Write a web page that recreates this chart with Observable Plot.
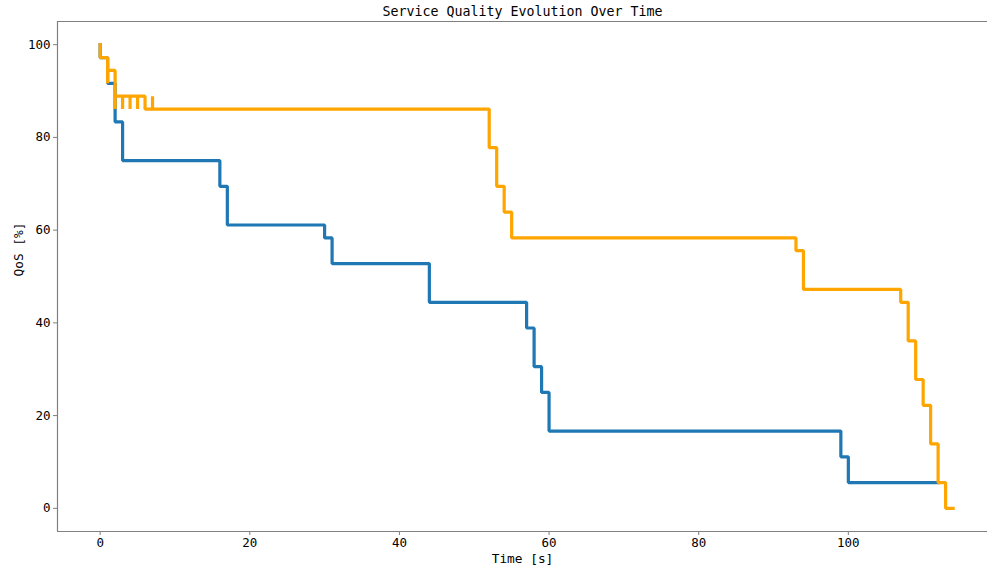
<!DOCTYPE html>
<html>
<head>
<meta charset="utf-8">
<script src="https://cdn.jsdelivr.net/npm/d3@7"></script>
<script src="https://cdn.jsdelivr.net/npm/@observablehq/plot@0.6"></script>
<style>
  html, body { margin: 0; padding: 0; background: #fff; overflow: hidden; }
  svg { display: block; }
</style>
</head>
<body>
<div id="chart"></div>
<script>
// Series A (blue)
const blueTime = [0, 0, 1, 2, 3, 16, 17, 30, 31, 44, 57, 58, 59, 60, 99, 100, 112];
const blueQoS  = [100, 97.22, 91.67, 83.33, 75.0, 69.44, 61.11, 58.33, 52.78, 44.44, 38.89, 30.56, 25.0, 16.67, 11.11, 5.56, 5.56];

// Series B (orange)
const orangeTime = [0, 0, 1, 1, 2, 2, 3, 3, 4, 4, 5, 5, 6, 7, 7, 52, 53, 54, 55, 93, 94, 107, 108, 109, 110, 111, 112, 113, 114];
const orangeQoS  = [100, 97.22, 91.67, 94.44, 86.11, 88.89, 86.11, 88.89, 86.11, 88.89, 86.11, 88.89, 86.11, 88.89, 86.11,
                    77.78, 69.44, 63.89, 58.33, 55.56, 47.22, 44.44, 36.11, 27.78, 22.22, 13.89, 5.56, 0, 0];

const xTicks = [0, 20, 40, 60, 80, 100];
const yTicks = [0, 20, 40, 60, 80, 100];
const xDomain = [-5.7, 118.6];
const yDomain = [-5, 105];

const titleText = "Service Quality Evolution Over Time";
const xLabel = "Time [s]";
const yLabel = "QoS [%]";

const blue = blueTime.map((t, i) => ({t, q: blueQoS[i]}));
const orange = orangeTime.map((t, i) => ({t, q: orangeQoS[i]}));

const spine = "#808080";

const chart = Plot.plot({
  width: 987,
  height: 568,
  marginLeft: 57,
  marginRight: 0,
  marginTop: 21,
  marginBottom: 37,
  style: {fontFamily: "'DejaVu Sans Mono', monospace", fontSize: "12.5px", color: "#000", background: "#fff"},
  x: {domain: xDomain, ticks: xTicks, label: null},
  y: {domain: yDomain, ticks: yTicks, label: null},
  marks: [
    Plot.axisX({ticks: xTicks, tickSize: 4, tickPadding: 3, stroke: spine, fill: "#000", label: null, fontSize: 12.5}),
    Plot.axisY({ticks: yTicks, tickSize: 4, tickPadding: 3, stroke: spine, fill: "#000", label: null, fontSize: 12.5}),
    Plot.ruleY([yDomain[0]], {stroke: spine, strokeWidth: 1.2}),
    Plot.ruleY([yDomain[1]], {stroke: spine, strokeWidth: 1.2}),
    Plot.ruleX([xDomain[0]], {stroke: spine, strokeWidth: 1.2}),
    Plot.line(blue, {x: "t", y: "q", curve: "step-after", stroke: "#1f77b4", strokeWidth: 3.2, strokeLinejoin: "miter", strokeLinecap: "square"}),
    Plot.line(orange, {x: "t", y: "q", curve: "step-after", stroke: "#ffa500", strokeWidth: 3.2, strokeLinejoin: "miter", strokeLinecap: "square"}),
    Plot.text([titleText], {frameAnchor: "top", lineAnchor: "middle", dy: -10, fontSize: 13.3, fill: "#000"}),
    Plot.text([xLabel], {frameAnchor: "bottom", lineAnchor: "middle", dy: 27, fontSize: 12.8, fill: "#000"}),
    Plot.text([yLabel], {frameAnchor: "left", lineAnchor: "middle", dx: -39, rotate: -90, fontSize: 12.8, fill: "#000"})
  ]
});
document.getElementById("chart").appendChild(chart);
</script>
</body>
</html>
